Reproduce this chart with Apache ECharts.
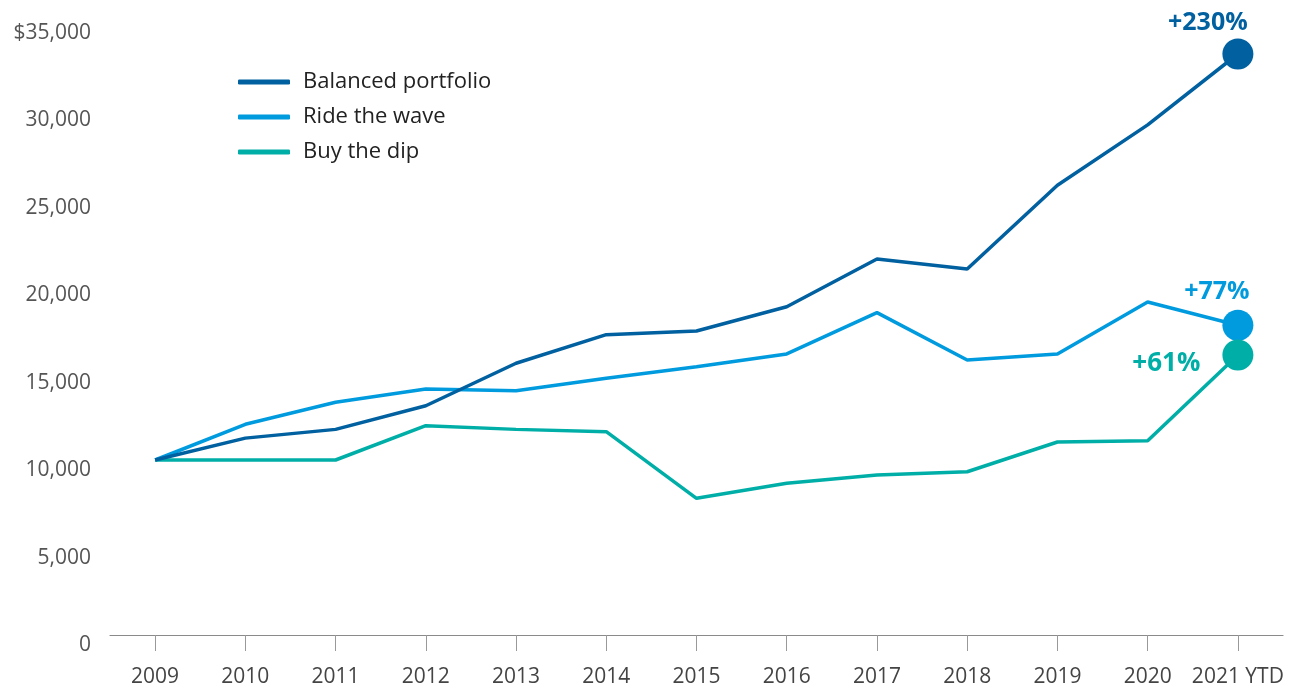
<!DOCTYPE html>
<html>
<head>
<meta charset="utf-8">
<script src="https://cdn.jsdelivr.net/npm/echarts@6/dist/echarts.min.js"></script>
<style>
  html, body { margin: 0; padding: 0; background: #fff; }
  #chart { width: 1291px; height: 689px; }
</style>
</head>
<body>
<div id="chart"></div>
<script>
const categories = ['2009', '2010', '2011', '2012', '2013', '2014', '2015', '2016', '2017', '2018', '2019', '2020', '2021 YTD'];
const balancedPortfolio = [10000, 11250, 11750, 13100, 15530, 17160, 17370, 18760, 21490, 20910, 25700, 29150, 33200];
const rideTheWave = [10000, 12040, 13300, 14060, 13960, 14670, 15330, 16060, 18420, 15710, 16060, 19030, 17700];
const buyTheDip = [10000, 10000, 10000, 11960, 11750, 11620, 7810, 8670, 9140, 9330, 11030, 11100, 16000];
const seriesNames = ['Balanced portfolio', 'Ride the wave', 'Buy the dip'];
const gainLabels = ['+230%', '+77%', '+61%'];
const yTicks = [0, 5000, 10000, 15000, 20000, 25000, 30000, 35000];

const colors = ['#0060A0', '#009BDE', '#00AEA8'];
const FONT = '"Open Sans", "Noto Sans", sans-serif';

function withEndDot(values, color, gain, labelCfg) {
  return values.map((v, i) => {
    if (i < values.length - 1) return v;
    return {
      value: v,
      symbol: 'circle',
      symbolSize: 31,
      itemStyle: { color: color },
      label: Object.assign({
        show: true,
        formatter: gain,
        color: color,
        fontFamily: FONT,
        fontWeight: 'bold',
        fontSize: 25
      }, labelCfg)
    };
  });
}

const chart = echarts.init(document.getElementById('chart'));
chart.setOption({
  animation: false,
  backgroundColor: '#ffffff',
  grid: { left: 110, right: 8, top: 22.5, bottom: 54, containLabel: false },
  legend: {
    orient: 'vertical',
    left: 238,
    top: 71,
    padding: 0,
    itemWidth: 52,
    itemHeight: 5,
    itemGap: 13,
    icon: 'roundRect',
    textStyle: { fontFamily: FONT, fontSize: 22, color: '#222', padding: [0, 0, 0, 8] },
    data: seriesNames
  },
  xAxis: {
    type: 'category',
    data: categories,
    boundaryGap: true,
    axisLine: { show: true, lineStyle: { color: '#8a8a8a', width: 1.2 } },
    axisTick: { show: true, alignWithLabel: true, interval: 0, length: 16, lineStyle: { color: '#999' } },
    axisLabel: { interval: 0, margin: 32, fontFamily: FONT, fontSize: 21, color: '#444' }
  },
  yAxis: {
    type: 'value',
    min: 0,
    max: 35000,
    interval: 5000,
    axisLine: { show: false },
    axisTick: { show: false },
    splitLine: { show: false },
    axisLabel: {
      margin: 19,
      fontFamily: FONT,
      fontSize: 21,
      color: '#555',
      verticalAlign: 'top',
      formatter: function (v) {
        if (yTicks.indexOf(v) < 0) return '';
        const s = v.toLocaleString('en-US');
        return v === 35000 ? '$' + s : s;
      }
    }
  },
  series: [
    {
      name: seriesNames[0],
      type: 'line',
      symbol: 'none',
      showSymbol: true,
      color: colors[0],
      lineStyle: { width: 3.5, color: colors[0] },
      data: withEndDot(balancedPortfolio, colors[0], gainLabels[0], { position: 'top', distance: 3, offset: [-30, 0] }),
      z: 3
    },
    {
      name: seriesNames[1],
      type: 'line',
      symbol: 'none',
      showSymbol: true,
      color: colors[1],
      lineStyle: { width: 3.5, color: colors[1] },
      data: withEndDot(rideTheWave, colors[1], gainLabels[1], { position: 'top', distance: 5, offset: [-21, 0] }),
      z: 2
    },
    {
      name: seriesNames[2],
      type: 'line',
      symbol: 'none',
      showSymbol: true,
      color: colors[2],
      lineStyle: { width: 3.5, color: colors[2] },
      data: withEndDot(buyTheDip, colors[2], gainLabels[2], { position: 'left', distance: 22, offset: [0, 9], fontSize: 26 }),
      z: 2
    }
  ]
});
</script>
</body>
</html>
